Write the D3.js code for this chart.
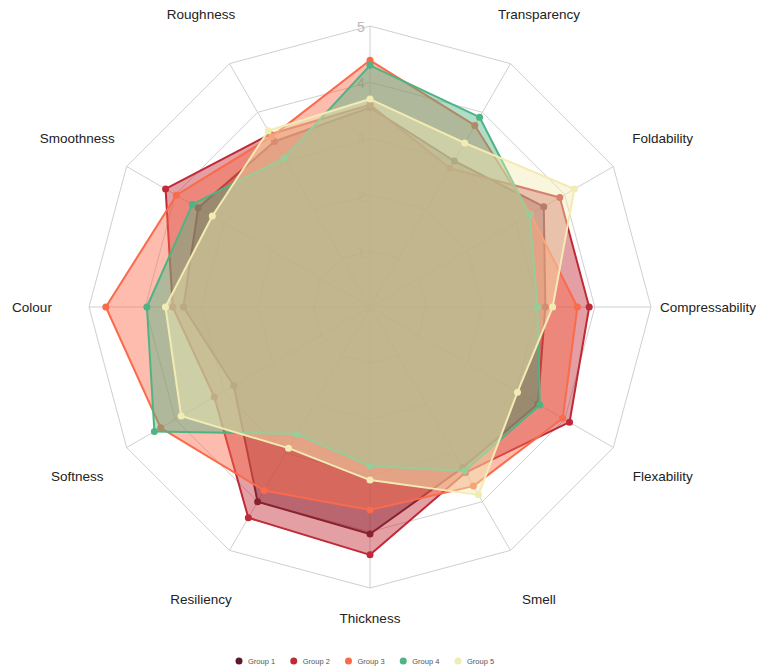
<!DOCTYPE html>
<html>
<head>
<meta charset="utf-8">
<script src="https://cdn.jsdelivr.net/npm/d3@7"></script>
<style>
  body { margin: 0; background: #fff; }
  svg { display: block; font-family: "Liberation Sans", Arial, sans-serif; }
</style>
</head>
<body>
<div id="chart"></div>
<script>
const width = 765;
const height = 667;

// axes, clockwise from the top (the top label is outside the picture)
const axes = ["", "Transparency", "Foldability", "Compressability", "Flexability", "Smell",
  "Thickness", "Resiliency", "Softness", "Colour", "Smoothness", "Roughness"];
const groups = ["Group 1", "Group 2", "Group 3", "Group 4", "Group 5"];
const colors = ["#5a1a2c", "#c02a36", "#fb6a4a", "#4fb384", "#f2ebb3"];
const levels = [1, 2, 3, 4, 5];

const group1 = [3.55, 3.0, 3.57, 3.12, 3.45, 3.3, 4.04, 4.0, 2.8, 3.32, 3.53, 3.4];
const group2 = [3.6, 2.85, 3.9, 3.9, 4.1, 3.4, 4.41, 4.33, 3.2, 3.51, 4.2, 3.55];
const group3 = [4.39, 3.73, 3.3, 3.69, 3.96, 3.68, 3.61, 3.77, 4.3, 4.7, 3.98, 3.5];
const group4 = [4.3, 3.9, 3.28, 2.98, 3.49, 3.37, 2.83, 2.61, 4.43, 3.97, 3.65, 3.06];
const group5 = [3.7, 3.37, 4.2, 3.25, 3.03, 3.86, 3.08, 2.9, 3.88, 3.64, 3.24, 3.62];
const series = [group1, group2, group3, group4, group5];

const cx = 370, cy = 307, R = 281;

const r = d3.scaleLinear().domain([0, 5]).range([0, R]);
const angle = d3.scaleLinear().domain([0, axes.length]).range([0, 2 * Math.PI]);

// point on axis i at value v
const pt = (i, v) => [Math.sin(angle(i)) * r(v), -Math.cos(angle(i)) * r(v)];

const svg = d3.select("#chart")
    .append("svg")
    .attr("width", width)
    .attr("height", height);

const g = svg.append("g").attr("transform", `translate(${cx},${cy})`);

const closed = d3.line().curve(d3.curveLinearClosed);

// grid rings
g.selectAll(".ring")
  .data(levels)
  .enter()
  .append("path")
  .attr("d", lv => closed(axes.map((a, i) => pt(i, lv))))
  .attr("fill", "none")
  .attr("stroke", "#cfcfcf")
  .attr("stroke-width", 1);

// spokes
g.selectAll(".spoke")
  .data(axes)
  .enter()
  .append("line")
  .attr("x1", 0).attr("y1", 0)
  .attr("x2", (d, i) => pt(i, 5)[0])
  .attr("y2", (d, i) => pt(i, 5)[1])
  .attr("stroke", "#cfcfcf")
  .attr("stroke-width", 1);

// level labels along the top axis
g.selectAll(".lvl")
  .data(levels)
  .enter()
  .append("text")
  .attr("x", -9)
  .attr("y", lv => -r(lv) + 6)
  .attr("text-anchor", "middle")
  .style("font-size", "14px")
  .style("fill", "#b8b8b8")
  .text(lv => lv);

// group areas
const grp = g.selectAll(".grp")
  .data(series)
  .enter()
  .append("g");

grp.append("path")
  .attr("d", s => closed(s.map((v, i) => pt(i, v))))
  .attr("fill", (s, k) => colors[k])
  .attr("fill-opacity", 0.45)
  .attr("stroke", (s, k) => colors[k])
  .attr("stroke-width", 2)
  .attr("stroke-linejoin", "round");

grp.selectAll("circle")
  .data((s, k) => s.map((v, i) => ({ v, i, k })))
  .enter()
  .append("circle")
  .attr("cx", d => pt(d.i, d.v)[0])
  .attr("cy", d => pt(d.i, d.v)[1])
  .attr("r", 3.5)
  .attr("fill", d => colors[d.k]);

// axis labels
g.selectAll(".lab")
  .data(axes)
  .enter()
  .append("text")
  .attr("x", (d, i) => Math.sin(angle(i)) * 338)
  .attr("y", (d, i) => Math.min(-Math.cos(angle(i)) * 338, 311))
  .attr("dy", "0.35em")
  .attr("text-anchor", "middle")
  .style("font-size", "13.5px")
  .style("fill", "#222")
  .text(d => d);

// legend
const legendX = d3.scalePoint().domain(groups).range([239, 458]);
const leg = svg.selectAll(".leg")
  .data(groups)
  .enter()
  .append("g")
  .attr("transform", d => `translate(${legendX(d)},661)`);

leg.append("circle")
  .attr("r", 3.5)
  .attr("fill", (d, k) => colors[k]);

leg.append("text")
  .attr("x", 9)
  .attr("dy", "0.35em")
  .style("font-size", "7.5px")
  .style("fill", "#555")
  .text(d => d);
</script>
</body>
</html>
